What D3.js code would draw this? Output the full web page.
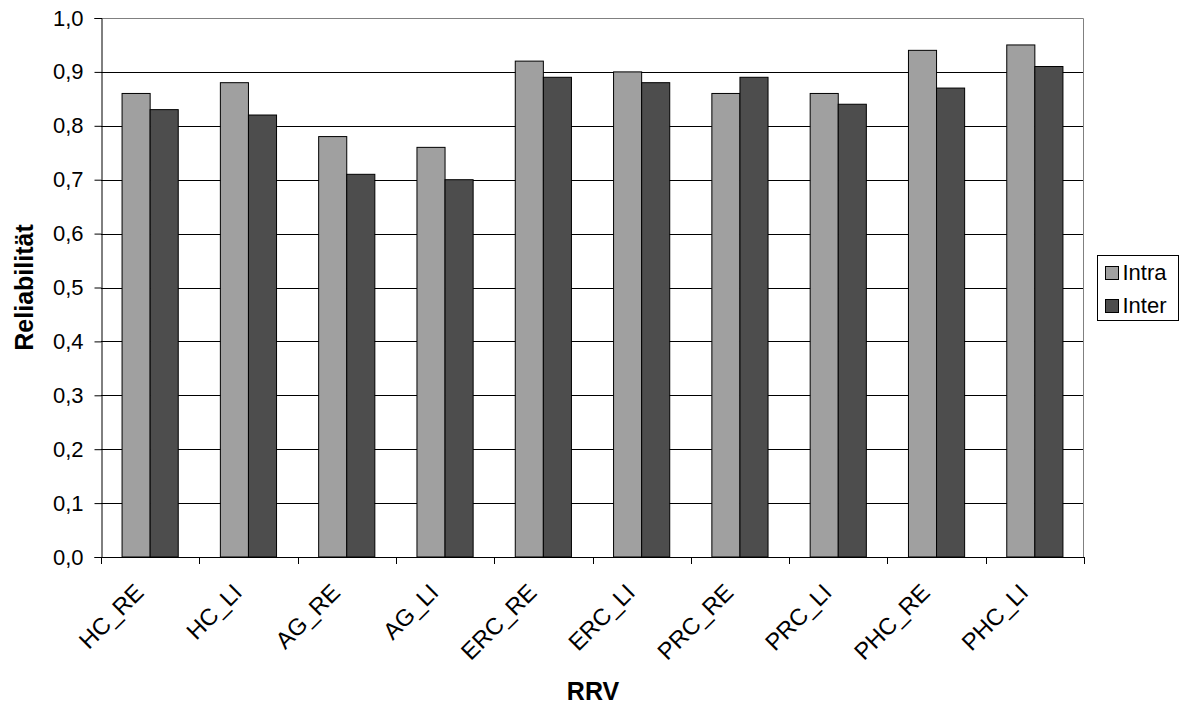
<!DOCTYPE html>
<html>
<head>
<meta charset="utf-8">
<script src="https://cdn.jsdelivr.net/npm/d3@7"></script>
<style>
  html, body { margin: 0; padding: 0; background: #fff; }
  svg { display: block; font-family: Arial, "Liberation Sans", sans-serif; }
</style>
</head>
<body>
<svg id="chart" width="1183" height="704"></svg>
<script>
// Reliability per RRV, intra- vs. inter-rater
const categories = ["HC_RE", "HC_LI", "AG_RE", "AG_LI", "ERC_RE", "ERC_LI", "PRC_RE", "PRC_LI", "PHC_RE", "PHC_LI"];
const intra = [0.86, 0.88, 0.78, 0.76, 0.92, 0.90, 0.86, 0.86, 0.94, 0.95];
const inter = [0.83, 0.82, 0.71, 0.70, 0.89, 0.88, 0.89, 0.84, 0.87, 0.91];
const seriesNames = ["Intra", "Inter"];
const yTicks = [0, 0.1, 0.2, 0.3, 0.4, 0.5, 0.6, 0.7, 0.8, 0.9, 1.0];

const colors = ["#a0a0a0", "#4d4d4d"];
const plot = { left: 101, right: 1084, top: 18, bottom: 557 };
const font = "Arial, 'Liberation Sans', sans-serif";

const svg = d3.select("#chart");

const x = d3.scaleBand().domain(categories).range([plot.left, plot.right]).paddingInner(0).paddingOuter(0);
const y = d3.scaleLinear().domain([0, 1]).range([plot.bottom, plot.top]);

// gap width 150%: bar = band / 3.5
const barW = x.bandwidth() / 3.5;
const gapOffset = barW * 0.75;

// gridlines
svg.append("g")
  .selectAll("line")
  .data(yTicks.slice(1, -1))
  .join("line")
  .attr("x1", plot.left).attr("x2", plot.right)
  .attr("y1", d => Math.round(y(d)) + 0.5).attr("y2", d => Math.round(y(d)) + 0.5)
  .attr("stroke", "#000").attr("stroke-width", 1);

// plot frame (top and right)
svg.append("path")
  .attr("d", `M${plot.left},${plot.top + 0.5}H${plot.right - 0.5}V${plot.bottom}`)
  .attr("fill", "none").attr("stroke", "#808080").attr("stroke-width", 1);

// bars
const data = categories.map((c, i) => ({ c, vals: [intra[i], inter[i]] }));
const groups = svg.append("g").selectAll("g").data(data).join("g");
groups.selectAll("rect")
  .data(d => d.vals.map((v, k) => ({ c: d.c, v, k })))
  .join("rect")
  .attr("x", d => x(d.c) + gapOffset + d.k * barW)
  .attr("y", d => y(d.v))
  .attr("width", barW)
  .attr("height", d => y(0) - y(d.v))
  .attr("fill", d => colors[d.k])
  .attr("stroke", "#000")
  .attr("stroke-width", 1);

// y axis
const yAxis = d3.axisLeft(y)
  .tickValues(yTicks)
  .tickSize(7)
  .tickPadding(11)
  .tickFormat(d => d3.format(".1f")(d).replace(".", ","));
const gy = svg.append("g").attr("transform", `translate(${plot.left + 0.5},0)`).call(yAxis);
gy.attr("font-size", null).attr("font-family", null);
gy.select(".domain").attr("stroke", "#000");
gy.selectAll(".tick line").attr("stroke", "#000");
gy.selectAll(".tick text").style("font-size", "22px").attr("fill", "#000")
  .style("font-family", font);

// x axis baseline and boundary ticks
svg.append("line")
  .attr("x1", plot.left).attr("x2", plot.right)
  .attr("y1", plot.bottom + 0.5).attr("y2", plot.bottom + 0.5)
  .attr("stroke", "#000");
const bounds = categories.map(c => x(c)).concat([plot.right]);
svg.append("g").selectAll("line").data(bounds).join("line")
  .attr("x1", d => Math.round(d) + 0.5).attr("x2", d => Math.round(d) + 0.5)
  .attr("y1", plot.bottom).attr("y2", plot.bottom + 7)
  .attr("stroke", "#000");

// category labels, rotated
svg.append("g").selectAll("text").data(categories).join("text")
  .attr("transform", d => `translate(${x(d) + x.bandwidth() / 2 - 11},${plot.bottom + 31}) rotate(-45)`)
  .attr("text-anchor", "end")
  .attr("dy", "0.35em")
  .style("font-size", "23.5px")
  .attr("fill", "#000")
  .text(d => d);

// axis titles
svg.append("text")
  .attr("x", 593).attr("y", 700)
  .attr("text-anchor", "middle")
  .style("font-size", "25px").attr("font-weight", "bold")
  .text("RRV");
svg.append("text")
  .attr("transform", `translate(33,${(plot.top + plot.bottom) / 2}) rotate(-90)`)
  .attr("text-anchor", "middle")
  .style("font-size", "25px").attr("font-weight", "bold")
  .text("Reliabilität");

// legend
const lg = svg.append("g").attr("transform", "translate(1097.5,255.5)");
lg.append("rect").attr("width", 81).attr("height", 65)
  .attr("fill", "#fff").attr("stroke", "#000");
seriesNames.forEach((name, i) => {
  const cy = 17 + i * 33;
  lg.append("rect").attr("x", 8).attr("y", cy - 6).attr("width", 13).attr("height", 13)
    .attr("fill", colors[i]).attr("stroke", "#000");
  lg.append("text").attr("x", 25).attr("y", cy).attr("dy", "0.36em")
    .style("font-size", "22px").text(name);
});
</script>
</body>
</html>
